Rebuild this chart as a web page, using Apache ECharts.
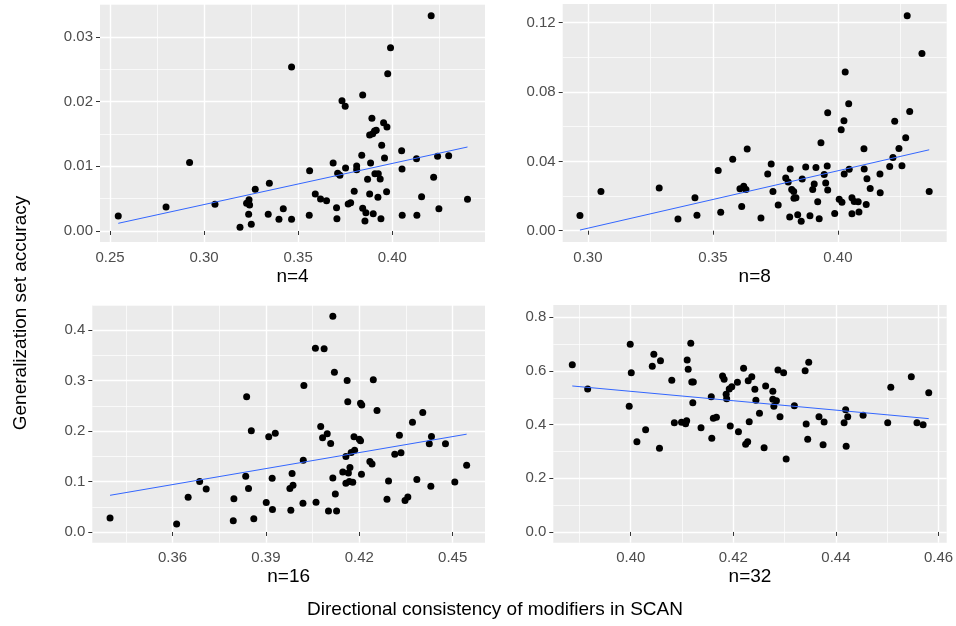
<!DOCTYPE html>
<html>
<head>
<meta charset="utf-8">
<script src="https://cdn.jsdelivr.net/npm/echarts@6/dist/echarts.min.js"></script>
<style>html,body{margin:0;padding:0;background:#fff}#c{width:956px;height:626px}</style>
</head>
<body>
<div id="c"></div>
<script>
// ---------- data ----------
const panelTitles = ['n=4', 'n=8', 'n=16', 'n=32'];
const xTitle = 'Directional consistency of modifiers in SCAN';
const yTitle = 'Generalization set accuracy';

const n4Points = [[0.2544,0.00232],[0.2798,0.00371],[0.2923,0.0106],[0.3058,0.00412],[0.3191,0.00057],[0.3226,0.00428],[0.3239,0.00485],[0.3242,0.00402],[0.3237,0.00258],[0.3251,0.00103],[0.3272,0.00644],[0.3341,0.00258],[0.3347,0.00737],[0.3398,0.0018],[0.3421,0.00345],[0.3465,0.0018],[0.3465,0.02536],[0.3559,0.00242],[0.3561,0.00933],[0.3591,0.00572],[0.3619,0.00495],[0.3651,0.00469],[0.3686,0.01052],[0.3704,0.00361],[0.3706,0.00191],[0.3710,0.00892],[0.3722,0.00861],[0.3733,0.02015],[0.3750,0.01928],[0.3752,0.00974],[0.3766,0.00418],[0.3779,0.00438],[0.3798,0.00613],[0.3811,0.01005],[0.3811,0.00948],[0.3838,0.0117],[0.3843,0.02103],[0.3843,0.0035],[0.3855,0.00155],[0.3860,0.00284],[0.3869,0.00799],[0.3880,0.00572],[0.3885,0.01052],[0.3880,0.01485],[0.3892,0.01742],[0.3896,0.01505],[0.3899,0.00268],[0.3906,0.01546],[0.3908,0.00887],[0.3915,0.01557],[0.3924,0.00521],[0.3926,0.00887],[0.3936,0.00804],[0.3940,0.00191],[0.3944,0.01325],[0.3954,0.01675],[0.3959,0.01129],[0.3970,0.00608],[0.3972,0.01608],[0.3976,0.02433],[0.3991,0.02835],[0.4050,0.01242],[0.4052,0.00959],[0.4053,0.00242],[0.4129,0.01119],[0.4131,0.00242],[0.4156,0.00531],[0.4207,0.0333],[0.4220,0.0083],[0.4241,0.01155],[0.4248,0.00345],[0.4300,0.01165],[0.4400,0.0049]];
const n8Points = [[0.2968,0.00885],[0.3052,0.0227],[0.3285,0.0246],[0.3360,0.0067],[0.3428,0.0190],[0.3436,0.0090],[0.3521,0.0348],[0.3531,0.0106],[0.3579,0.0412],[0.3608,0.0242],[0.3615,0.0140],[0.3623,0.0256],[0.3632,0.0238],[0.3637,0.0471],[0.3692,0.0073],[0.3719,0.0327],[0.3733,0.0385],[0.3740,0.0227],[0.3761,0.0148],[0.3791,0.0304],[0.3801,0.0281],[0.3807,0.0079],[0.3809,0.0356],[0.3815,0.0238],[0.3823,0.0227],[0.3824,0.0187],[0.3832,0.0190],[0.3839,0.0092],[0.3853,0.0054],[0.3857,0.0298],[0.3871,0.0367],[0.3888,0.0087],[0.3899,0.0238],[0.3905,0.0269],[0.3912,0.0365],[0.3919,0.0167],[0.3925,0.0069],[0.3932,0.0508],[0.3945,0.0325],[0.3951,0.0275],[0.3957,0.0373],[0.3959,0.0235],[0.3959,0.0681],[0.3987,0.0100],[0.4005,0.0181],[0.4013,0.0583],[0.4016,0.0165],[0.4024,0.0635],[0.4025,0.0327],[0.4029,0.0915],[0.4043,0.0733],[0.4045,0.0354],[0.4056,0.0190],[0.4056,0.0098],[0.4065,0.0169],[0.4081,0.0167],[0.4084,0.0108],[0.4104,0.0473],[0.4105,0.0356],[0.4113,0.0152],[0.4116,0.0300],[0.4129,0.0244],[0.4168,0.0327],[0.4169,0.0219],[0.4207,0.0371],[0.4220,0.0423],[0.4227,0.0631],[0.4244,0.0475],[0.4256,0.0375],[0.4271,0.0537],[0.4277,0.1240],[0.4287,0.0688],[0.4336,0.1023],[0.4365,0.0227]];
const n16Points = [[0.3399,0.0278],[0.3613,0.0159],[0.3650,0.0689],[0.3687,0.1000],[0.3708,0.0854],[0.3795,0.0225],[0.3797,0.0662],[0.3835,0.1106],[0.3838,0.2682],[0.3844,0.0861],[0.3853,0.2007],[0.3861,0.0265],[0.3901,0.0583],[0.3909,0.1887],[0.3920,0.1066],[0.3921,0.0444],[0.3930,0.1960],[0.3977,0.0861],[0.3980,0.0430],[0.3984,0.1159],[0.3987,0.0927],[0.4019,0.0570],[0.4020,0.1424],[0.4022,0.2907],[0.4059,0.3642],[0.4061,0.0589],[0.4076,0.2093],[0.4082,0.1868],[0.4087,0.3636],[0.4097,0.1947],[0.4101,0.0417],[0.4108,0.1755],[0.4115,0.4278],[0.4115,0.1073],[0.4120,0.3166],[0.4123,0.0755],[0.4127,0.0417],[0.4147,0.1192],[0.4157,0.1497],[0.4157,0.0967],[0.4161,0.3007],[0.4163,0.2583],[0.4165,0.1172],[0.4168,0.1000],[0.4170,0.1278],[0.4174,0.1576],[0.4179,0.0987],[0.4183,0.1887],[0.4185,0.1623],[0.4200,0.1841],[0.4204,0.2556],[0.4204,0.1808],[0.4207,0.1146],[0.4208,0.2517],[0.4234,0.1397],[0.4241,0.1351],[0.4245,0.3020],[0.4257,0.2411],[0.4289,0.0649],[0.4294,0.1013],[0.4314,0.1543],[0.4329,0.1921],[0.4334,0.1570],[0.4347,0.0623],[0.4356,0.0695],[0.4371,0.2179],[0.4385,0.1040],[0.4404,0.2371],[0.4425,0.1748],[0.4430,0.0907],[0.4432,0.1894],[0.4477,0.1748],[0.4507,0.0993],[0.4545,0.1325]];
const n32Points = [[0.3886,0.6236],[0.3916,0.5329],[0.3997,0.4683],[0.3999,0.6994],[0.4001,0.5938],[0.4012,0.3366],[0.4029,0.3814],[0.4042,0.6174],[0.4045,0.6621],[0.4056,0.3118],[0.4058,0.6385],[0.4080,0.5652],[0.4085,0.4075],[0.4099,0.4087],[0.4107,0.4037],[0.4109,0.4149],[0.4110,0.6410],[0.4112,0.6062],[0.4117,0.7031],[0.4119,0.5590],[0.4122,0.5590],[0.4121,0.4820],[0.4137,0.3888],[0.4157,0.5043],[0.4158,0.3491],[0.4161,0.4236],[0.4167,0.4273],[0.4179,0.5814],[0.4182,0.5689],[0.4186,0.5130],[0.4187,0.4969],[0.4192,0.5329],[0.4194,0.3950],[0.4197,0.5416],[0.4208,0.5578],[0.4210,0.3739],[0.4220,0.6099],[0.4224,0.3267],[0.4228,0.3366],[0.4229,0.5640],[0.4231,0.4112],[0.4236,0.5789],[0.4242,0.5317],[0.4244,0.4907],[0.4251,0.4422],[0.4260,0.3143],[0.4263,0.5441],[0.4277,0.5242],[0.4277,0.4944],[0.4279,0.4683],[0.4284,0.4894],[0.4287,0.6037],[0.4291,0.4298],[0.4298,0.5938],[0.4303,0.2720],[0.4319,0.4708],[0.4340,0.6012],[0.4342,0.4025],[0.4345,0.3453],[0.4347,0.6323],[0.4367,0.4298],[0.4375,0.3255],[0.4377,0.4099],[0.4416,0.4075],[0.4419,0.4559],[0.4420,0.3193],[0.4423,0.4298],[0.4453,0.4348],[0.4501,0.4075],[0.4507,0.5391],[0.4547,0.5789],[0.4558,0.4075],[0.4570,0.4000],[0.4581,0.5193]];

// fitted linear trend endpoints
const n4Fit = [[0.2544,0.00119],[0.4400,0.01299]];
const n8Fit = [[0.2968,0.0004],[0.4365,0.0467]];
const n16Fit = [[0.3399,0.0728],[0.4545,0.1940]];
const n32Fit = [[0.3886,0.5441],[0.4581,0.4224]];

// tick values
const n4XTicks = [0.25,0.30,0.35,0.40];
const n4YTicks = [0.00,0.01,0.02,0.03];
const n8XTicks = [0.30,0.35,0.40];
const n8YTicks = [0.00,0.04,0.08,0.12];
const n16XTicks = [0.36,0.39,0.42,0.45];
const n16YTicks = [0.0,0.1,0.2,0.3,0.4];
const n32XTicks = [0.40,0.42,0.44,0.46];
const n32YTicks = [0.0,0.2,0.4,0.6,0.8];

// ---------- layout ----------
const panels = [
  {pts:n4Points, fit:n4Fit, xt:n4XTicks, yt:n4YTicks, xd:2, yd:2,
   grid:{left:100, top:4, width:385, height:238},
   xr:[0.2447,0.4493], yr:[-0.0017,0.0351]},
  {pts:n8Points, fit:n8Fit, xt:n8XTicks, yt:n8YTicks, xd:2, yd:2,
   grid:{left:562.7, top:4, width:384, height:238},
   xr:[0.2899,0.4435], yr:[-0.0065,0.1308]},
  {pts:n16Points, fit:n16Fit, xt:n16XTicks, yt:n16YTicks, xd:2, yd:1,
   grid:{left:92.3, top:305, width:392.7, height:237.7},
   xr:[0.3342,0.4604], yr:[-0.0212,0.4502]},
  {pts:n32Points, fit:n32Fit, xt:n32XTicks, yt:n32YTicks, xd:2, yd:1,
   grid:{left:553.3, top:305, width:393.4, height:237.7},
   xr:[0.3849,0.4616], yr:[-0.04,0.8459]}
];

function minorOf(ticks, lo, hi) {
  const step = ticks[1] - ticks[0];
  const out = [];
  for (let i = -1; i < ticks.length; i++) {
    const v = ticks[0] + step * (i + 0.5);
    if (v > lo && v < hi) out.push(+v.toFixed(6));
  }
  return out;
}

const FONT = '"Liberation Sans", Arial, sans-serif';
const grids = [], xAxes = [], yAxes = [], series = [];

panels.forEach((p, i) => {
  grids.push(Object.assign({show:true, backgroundColor:'#EBEBEB', borderWidth:0,
    containLabel:false, outerBoundsMode:'none'}, p.grid));
  xAxes.push({
    type:'value', gridIndex:i, min:p.xr[0], max:p.xr[1], position:'bottom',
    name: panelTitles[i], nameLocation:'middle', nameGap:25,
    nameTextStyle:{fontSize:19, color:'#000', fontFamily:FONT},
    axisLine:{show:false},
    axisTick:{show:true, length:4, lineStyle:{color:'#333333', width:1}, customValues:p.xt},
    axisLabel:{show:true, margin:8, fontSize:15, color:'#4D4D4D', fontFamily:FONT,
      customValues:p.xt, formatter:(v)=>v.toFixed(p.xd), hideOverlap:false},
    splitLine:{show:true, lineStyle:{color:'#FFFFFF', width:1.4}}
  });
  xAxes.push({
    type:'value', gridIndex:i, min:p.xr[0], max:p.xr[1], position:'top',
    axisLine:{show:false},
    axisTick:{show:false, customValues:minorOf(p.xt, p.xr[0], p.xr[1])},
    axisLabel:{show:false},
    splitLine:{show:true, lineStyle:{color:'#FFFFFF', width:0.7}}
  });
  yAxes.push({
    type:'value', gridIndex:i, min:p.yr[0], max:p.yr[1], position:'left',
    axisLine:{show:false},
    axisTick:{show:true, length:4, lineStyle:{color:'#333333', width:1}, customValues:p.yt},
    axisLabel:{show:true, margin:7, fontSize:15, color:'#4D4D4D', fontFamily:FONT,
      customValues:p.yt, formatter:(v)=>v.toFixed(p.yd), hideOverlap:false},
    splitLine:{show:true, lineStyle:{color:'#FFFFFF', width:1.4}}
  });
  yAxes.push({
    type:'value', gridIndex:i, min:p.yr[0], max:p.yr[1], position:'right',
    axisLine:{show:false},
    axisTick:{show:false, customValues:minorOf(p.yt, p.yr[0], p.yr[1])},
    axisLabel:{show:false},
    splitLine:{show:true, lineStyle:{color:'#FFFFFF', width:0.7}}
  });
  series.push({
    type:'scatter', xAxisIndex:2*i, yAxisIndex:2*i, data:p.pts,
    symbol:'circle', symbolSize:7, itemStyle:{color:'#000000', opacity:1},
    z:3, silent:true
  });
  series.push({
    type:'line', xAxisIndex:2*i, yAxisIndex:2*i, data:p.fit,
    symbol:'none', lineStyle:{color:'#3366FF', width:1}, z:4, silent:true
  });
});

const chart = echarts.init(document.getElementById('c'), null, {renderer:'canvas'});
chart.setOption({
  animation:false,
  backgroundColor:'#FFFFFF',
  textStyle:{fontFamily:FONT},
  grid:grids, xAxis:xAxes, yAxis:yAxes, series:series,
  graphic:[
    {type:'text', x:495, y:610,
     style:{text:xTitle, fontSize:19, fill:'#000', fontFamily:FONT, textAlign:'center', textVerticalAlign:'middle'}},
    {type:'text', x:21, y:313, rotation:Math.PI/2,
     style:{text:yTitle, fontSize:19, fill:'#000', fontFamily:FONT, textAlign:'center', textVerticalAlign:'middle'}}
  ]
});
</script>
</body>
</html>
